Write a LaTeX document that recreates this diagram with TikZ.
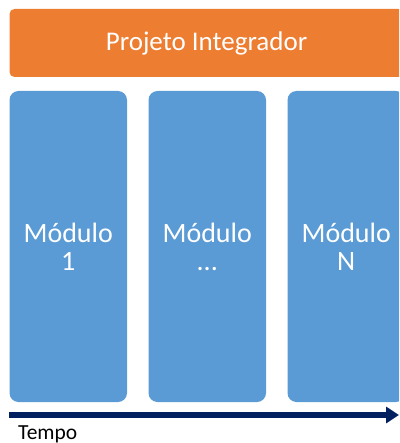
\documentclass[tikz,border=0pt]{standalone}
\usepackage{fontspec}
\setmainfont{Carlito}
\usetikzlibrary{arrows.meta}
\definecolor{barorange}{HTML}{ED7D31}
\definecolor{modblue}{HTML}{5B9BD5}
\definecolor{timenavy}{HTML}{002060}
\tikzset{
  projbar/.style={fill=barorange, draw=none, rounded corners=5pt,
    minimum width=394pt, minimum height=68pt, inner sep=0pt,
    text=white, font=\fontsize{27}{32}\selectfont},
  modbox/.style={fill=modblue, draw=none, rounded corners=9pt,
    minimum width=117.5pt, minimum height=311pt, inner sep=0pt,
    text=white, align=center, font=\fontsize{28}{28}\selectfont},
  timeline/.style={draw=timenavy, line width=5.5pt,
    -{Triangle[length=13pt,width=16pt]}},
  timelabel/.style={anchor=base west, inner sep=0pt, text=black,
    font=\fontsize{21.5}{24}\selectfont}
}
\begin{document}
\begin{tikzpicture}[x=1pt,y=-1pt]
  \useasboundingbox (0,0) rectangle (399,443);
  \clip (0,0) rectangle (399,443);
  % project bar across the top
  \node[projbar] (proj) at (206.5,43) {Projeto Integrador};
  % module columns
  \node[modbox] (m1) at (68.25,246.5) {Módulo\\1};
  \node[modbox] (m2) at (207.25,246.5) {Módulo\\...};
  \node[modbox] (mn) at (346.25,246.5) {Módulo\\N};
  % time axis
  \coordinate (t0) at (9,415);
  \coordinate (t1) at (399,415);
  \draw[timeline] (t0) -- (t1);
  \node[timelabel] (tempo) at (18,439) {Tempo};
\end{tikzpicture}
\end{document}
